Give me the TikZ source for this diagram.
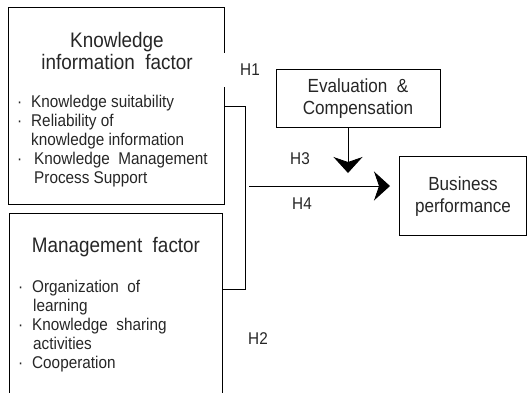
\documentclass[tikz,border=0pt]{standalone}
\usepackage{fontspec}
\setmainfont[FakeStretch=0.9]{Liberation Sans}
\usetikzlibrary{arrows.meta}
\tikzset{
  box/.style={draw=black, line width=0.9pt, inner sep=0pt, anchor=north west},
  ttl/.style={align=center, font=\fontsize{21}{22}\selectfont, text=black!85, inner sep=0pt},
  lst/.style={align=left, font=\fontsize{17}{19}\selectfont, text=black!85, inner sep=0pt, anchor=north west},
  sub/.style={align=center, font=\fontsize{19}{22}\selectfont, text=black!85, inner sep=0pt},
  hyp/.style={font=\fontsize{17}{18}\selectfont, text=black!85, inner sep=0pt},
  conn/.style={line width=0.9pt, draw=black},
  arr/.style={conn, -{Stealth[length=16pt, width=29pt, inset=5pt]}},
}
\newcommand{\bul}{\llap{\textperiodcentered\hspace{9pt}}}
\begin{document}
\begin{tikzpicture}[x=1pt, y=-1pt]
\useasboundingbox (0,0) rectangle (528,392);
% boxes
\node[box, minimum width=216pt, minimum height=197pt] (kif) at (8,7) {};
\node[box, minimum width=213pt, minimum height=200pt] (mf) at (9,213) {};
\node[box, minimum width=164pt, minimum height=58pt] (ec) at (276,69) {};
\node[box, minimum width=127pt, minimum height=79pt] (bp) at (399,156) {};
% gap in right border of first box
\draw[white, line width=2pt] (kif.north east |- 0,53) -- (kif.north east |- 0,87);
% texts
\node[ttl] (kift) at (117,51) {Knowledge\\information\ \ factor};
\node[lst] (kifl) at (31,95) {\bul Knowledge suitability\\\bul Reliability of\\knowledge information\\\bul\hspace{3pt}Knowledge\ \ Management\\\hspace{3pt}Process Support};
\node[ttl] (mft) at (116,247) {Management\ \ factor};
\node[lst] (mfl) at (32,280) {\bul Organization\ \ of\\\hspace{1pt}learning\\\bul Knowledge\ \ sharing\\\hspace{1pt}activities\\\bul Cooperation};
\node[sub] (ect) at (358,99) {Evaluation \ \&\\Compensation};
\node[sub] (bpt) at (463,197) {Business\\performance};
\node[hyp] (h1) at (250,70) {H1};
\node[hyp] (h2) at (258,339) {H2};
\node[hyp] (h3) at (300,159) {H3};
\node[hyp] (h4) at (302,204) {H4};
% connectors
\coordinate (k1) at (245,106);
\coordinate (k2) at (245,289);
\draw[conn] (kif.east |- k1) -- (k1) -- (k2) -- (mf.east |- k2);
\coordinate (a0) at (249,186);
\draw[arr] (a0) -- ([xshift=-9pt]bp.west |- a0);
\coordinate (v1) at (348,173);
\draw[arr] (ec.south -| v1) -- (v1);
\end{tikzpicture}
\end{document}
